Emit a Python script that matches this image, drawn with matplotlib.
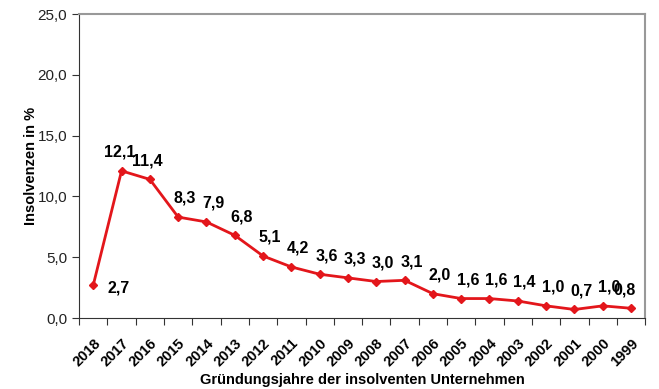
import matplotlib
matplotlib.use("Agg")
import matplotlib.pyplot as plt
import numpy as np

years = ["2018", "2017", "2016", "2015", "2014", "2013", "2012", "2011", "2010", "2009",
         "2008", "2007", "2006", "2005", "2004", "2003", "2002", "2001", "2000", "1999"]
values = [2.7, 12.1, 11.4, 8.3, 7.9, 6.8, 5.1, 4.2, 3.6, 3.3,
          3.0, 3.1, 2.0, 1.6, 1.6, 1.4, 1.0, 0.7, 1.0, 0.8]
yticks = [0, 5, 10, 15, 20, 25]

plt.rcParams['font.family'] = ['Liberation Sans', 'DejaVu Sans']

fig = plt.figure(figsize=(6.59, 3.89), dpi=100)
ax = fig.add_axes([0.12, 0.1825, 0.859, 0.7815])

x = np.arange(len(years))
ax.plot(x, values, color="#e3161b", lw=2, marker="D", ms=4.5, mec="#e3161b", mfc="#e3161b")

for i, v in enumerate(values):
    lab = f"{v:.1f}".replace(".", ",")
    if i == 0:
        ax.annotate(lab, (x[i], v), xytext=(10, -2), textcoords="offset points",
                    ha="left", va="center", fontsize=11.5, fontweight="bold")
        continue
    dx = 5
    if i in (1, 2): dx = -1.5
    if i == len(values) - 1: dx = -5
    ax.annotate(lab, (x[i], v), xytext=(dx, 8), textcoords="offset points",
                ha="center", va="bottom", fontsize=11.5, fontweight="bold")

ax.set_xlim(-0.5, len(years) - 0.5)
ax.set_ylim(0, 25)
ax.set_yticks(yticks)
ax.set_yticklabels([f"{t:.1f}".replace(".", ",") for t in yticks], fontsize=11, color="#222222")

ax.set_xticks(np.arange(len(years) + 1) - 0.5)
ax.set_xticklabels([])
ax.set_xticks(x, minor=True)
ax.set_xticklabels(years, minor=True, rotation=45, ha="right", rotation_mode="anchor",
                   fontsize=10.5, fontweight="bold")
ax.tick_params(axis="x", which="minor", length=0, pad=13)
ax.tick_params(axis="x", which="major", length=5, direction="out", color="#333333")
ax.tick_params(axis="y", length=5, direction="out", color="#333333")

for s in ["left", "bottom"]:
    ax.spines[s].set_color("#333333")
for s in ["top", "right"]:
    ax.spines[s].set_color("#999999")
    ax.spines[s].set_linewidth(1.5)

ax.set_ylabel("Insolvenzen in %", fontsize=10.5, fontweight="bold", labelpad=0)
ax.set_xlabel("Gründungsjahre der insolventen Unternehmen", fontsize=10.5, fontweight="bold",
              labelpad=3)

fig.savefig("out.png", dpi=100)
